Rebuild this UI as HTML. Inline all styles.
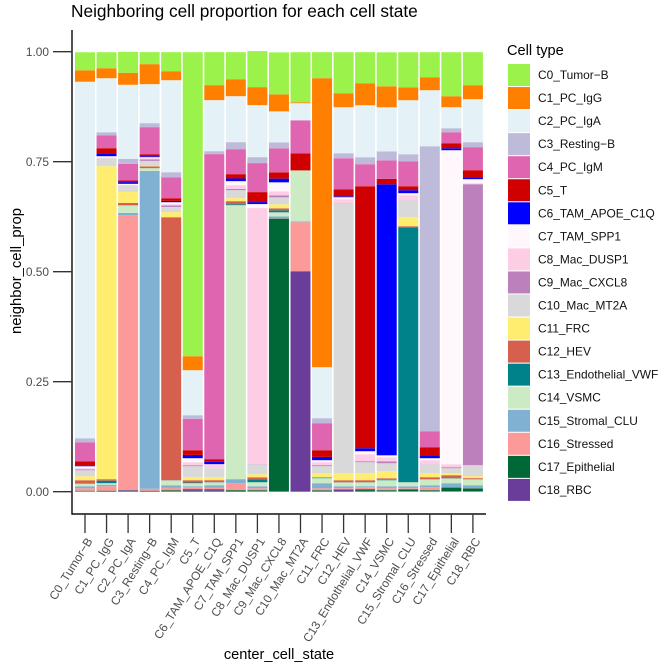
<!DOCTYPE html>
<html lang="en">
<head>
<meta charset="utf-8">
<title>Neighboring cell proportion for each cell state</title>
<style>
html,body{margin:0;padding:0;background:#fff;width:669px;height:667px;overflow:hidden}
svg{display:block;font-family:"Liberation Sans",Arial,sans-serif}
</style>
</head>
<body>
<svg id="chart" xmlns="http://www.w3.org/2000/svg" width="669" height="667" viewBox="0 0 669 667">
  <rect x="0" y="0" width="669" height="667" fill="#fff"/>
  <text x="71" y="17" font-size="17.3" fill="#000">Neighboring cell proportion for each cell state</text>
  <text transform="translate(21,271) rotate(-90)" text-anchor="middle" font-size="14.8" fill="#000">neighbor_cell_prop</text>
  <text x="279" y="659" text-anchor="middle" font-size="14.6" fill="#000">center_cell_state</text>
  <text x="507" y="55" font-size="14.6" fill="#000">Cell type</text>
  <g id="bars"></g>
  <g id="axes"></g>
  <g id="legend"></g>
</svg>
<script>
const categories = ["C0_Tumor\u2212B","C1_PC_IgG","C2_PC_IgA","C3_Resting\u2212B","C4_PC_IgM","C5_T","C6_TAM_APOE_C1Q","C7_TAM_SPP1","C8_Mac_DUSP1","C9_Mac_CXCL8","C10_Mac_MT2A","C11_FRC","C12_HEV","C13_Endothelial_VWF","C14_VSMC","C15_Stromal_CLU","C16_Stressed","C17_Epithelial","C18_RBC"];
const cellTypes = ["C0_Tumor\u2212B","C1_PC_IgG","C2_PC_IgA","C3_Resting\u2212B","C4_PC_IgM","C5_T","C6_TAM_APOE_C1Q","C7_TAM_SPP1","C8_Mac_DUSP1","C9_Mac_CXCL8","C10_Mac_MT2A","C11_FRC","C12_HEV","C13_Endothelial_VWF","C14_VSMC","C15_Stromal_CLU","C16_Stressed","C17_Epithelial","C18_RBC"];
const yTicks = [0, 0.25, 0.5, 0.75, 1];
const yTickLabels = ["0.00", "0.25", "0.50", "0.75", "1.00"];
const cellColors = ["#9AF24A","#FF8000","#E4F2F8","#BEBAD9","#DF65B0","#D00000","#0000FF","#FFF7FB","#FCCDE5","#BC80BD","#D9D9D9","#FFED6F","#D6604D","#00828A","#CCEBC5","#80B1D3","#FB9A99","#006837","#6A3D9A"];

/* neighbor proportions for each center cell state, in cell-type order C0..C18 */
const propC0 = [.0409,.0261,.8102,.0091,.0432,.0091,.0023,.0045,.0023,.0023,.0136,.0091,.0068,.0011,.0057,.0045,.0057,.0011,.0011];
const propC1 = [.0364,.0227,.1227,.0068,.0295,.0114,.0068,.0034,.0011,0,.0182,.7114,.0034,.0057,.0034,.0034,.0102,.0007,.0016];
const propC2 = [.0477,.0273,.1682,.0114,.038,.0036,.0039,.003,.0005,.0005,.0143,.025,.0052,.0005,.017,.0052,.625,.0005,.003];
const propC3 = [.0273,.0455,.0886,.0091,.0614,.0045,.0023,.0023,.003,.0032,.012,.0007,.0039,0,.0061,.7223,.0045,.0005,.0018];
const propC4 = [.0432,.0205,.2091,.0114,.0477,.0061,.003,.0045,.003,.0032,.012,.0114,.5977,.0005,.0109,.0061,.0052,.0027,.0007];
const propC5 = [.6909,.0318,.1023,.0084,.0711,.0107,.0075,.0091,.0068,.0023,.025,.0068,.0052,.0016,.0068,.0023,.0045,.0023,.0034];
const propC6 = [.075,.0341,.1159,.0068,.6932,.0057,.0057,.0005,.0086,0,.0205,.0068,.0045,.0005,.0064,.0061,.003,.0023,.0034];
const propC7 = [.0614,.0386,.1045,.0159,.0568,.0098,.0061,.0091,.0084,.003,.0182,.0068,.0068,.0023,.6227,.0091,.0159,.003,.0005];
const propC8 = [.0818,.0409,.1182,.0136,.0659,.0227,.0045,.0091,.5818,.0005,.0227,.0068,.0045,.0068,.0091,.0045,.0045,.0023,.0011];
const propC9 = [.0955,.0386,.0705,.0136,.0545,.0143,.0084,.0205,.0091,.0045,.0159,.0091,.0045,.0045,.0091,.0045,.0007,.6191,.0016];
const propC10 = [.1136,.0023,.0386,.0005,.075,.0386,0,0,0,0,0,0,0,0,.1159,.0018,.1114,0,.5011];
const propC11 = [.0591,.6568,.1159,.0114,.0614,.0152,.0075,.0045,.0068,.0023,.0159,.0091,.0016,.0007,.0114,.0114,.0045,.0016,.0018];
const propC12 = [.0932,.0318,.1045,.0114,.0705,.0159,.0023,.0045,.0091,.0007,.613,.0159,.0045,.0005,.0086,.0045,.0023,.0011,.0045];
const propC13 = [.0705,.05,.1182,.0159,.05,.5955,.0068,.0068,.0159,.0023,.025,.0159,.0045,.0005,.0086,.0023,.0045,.0039,.0018];
const propC14 = [.0773,.0477,.1,.0205,.042,.0125,.6159,.0045,.0091,.0045,.0182,.0159,.0034,.0011,.0136,.0045,.0045,.0023,.0011];
const propC15 = [.0795,.0295,.1227,.0159,.0568,.0091,.0068,.0045,.0114,.0005,.0382,.0205,.0023,.5795,.0091,.0045,.0023,.0045,.0011];
const propC16 = [.0568,.0295,.1273,.6477,.0364,.0182,.0068,.0045,.0091,.0005,.02,.0091,.0045,.0005,.0132,.0045,.0068,.0023,.0011];
const propC17 = [.1,.025,.0477,.0091,.025,.0114,.0045,.7136,.0068,.0023,.0114,.0045,.0068,.0007,.0107,.0091,.0007,.0084,.0011];
const propC18 = [.075,.0318,.0977,.0114,.0523,.0159,.0045,.0091,.0023,.6386,.025,.0045,.0023,.0005,.0132,.0068,.0005,.0064,.0011];
const proportions = [propC0,propC1,propC2,propC3,propC4,propC5,propC6,propC7,propC8,propC9,propC10,propC11,propC12,propC13,propC14,propC15,propC16,propC17,propC18];

const NS = "http://www.w3.org/2000/svg";
const panel = {left: 72, right: 486, top: 30, bottom: 514};
const xStep = 21.55;
const barWidth = 20;
function xScale(i) { return 85 + xStep * i; }
function yScale(v) { return 491.7 - 440 * v; }
function slug(s) { return s.replace(/[^A-Za-z0-9]+/g, '-').toLowerCase(); }
function make(tag, attrs, parent) {
  const el = document.createElementNS(NS, tag);
  for (const k in attrs) el.setAttribute(k, attrs[k]);
  parent.appendChild(el);
  return el;
}

const barsG = document.getElementById('bars');
proportions.forEach(function (row, i) {
  const group = make('g', {}, barsG);
  
  
  let cum = 0;
  for (let s = row.length - 1; s >= 0; s--) {
    const v = row[s];
    if (v <= 0) continue;
    const rect = make('rect', {
      x: xScale(i) - barWidth / 2,
      y: yScale(cum + v),
      width: barWidth,
      height: yScale(cum) - yScale(cum + v),
      fill: cellColors[s]
    }, group);
    
    
    cum += v;
  }
});

const axesG = document.getElementById('axes');
const yLine = make('line', {x1: panel.left, x2: panel.left, y1: panel.top, y2: panel.bottom + 0.8, stroke: '#333', 'stroke-width': 1.7}, axesG);


const xLine = make('line', {x1: panel.left, x2: panel.right, y1: panel.bottom, y2: panel.bottom, stroke: '#111', 'stroke-width': 1.5}, axesG);



yTicks.forEach(function (t, i) {
  const tick = make('line', {x1: 53, x2: panel.left, y1: yScale(t), y2: yScale(t), stroke: '#333', 'stroke-width': 1.3}, axesG);
  
  
  const label = make('text', {x: 49, y: yScale(t) + 4.2, 'text-anchor': 'end', 'font-size': 11.9, fill: '#4d4d4d'}, axesG);
  
  
  label.textContent = yTickLabels[i];
});

categories.forEach(function (c, i) {
  const x = xScale(i);
  const tick = make('line', {x1: x, x2: x, y1: panel.bottom, y2: 533, stroke: '#333', 'stroke-width': 1.3}, axesG);
  
  
  const label = make('text', {
    transform: 'translate(' + (x + 8) + ',541) rotate(-58)',
    'text-anchor': 'end',
    'font-size': 11.9,
    fill: '#4d4d4d'
  }, axesG);
  
  
  label.textContent = c;
});

const legendG = document.getElementById('legend');
cellTypes.forEach(function (c, i) {
  const y = 64 + 23.05 * i;
  const entry = make('g', {}, legendG);
  
  
  const key = make('rect', {x: 508, y: y, width: 22, height: 22, fill: cellColors[i]}, entry);
  
  
  const text = make('text', {x: 538, y: y + 15, 'font-size': 11.9, fill: '#111'}, entry);
  
  
  text.textContent = c;
});
</script>
</body>
</html>
